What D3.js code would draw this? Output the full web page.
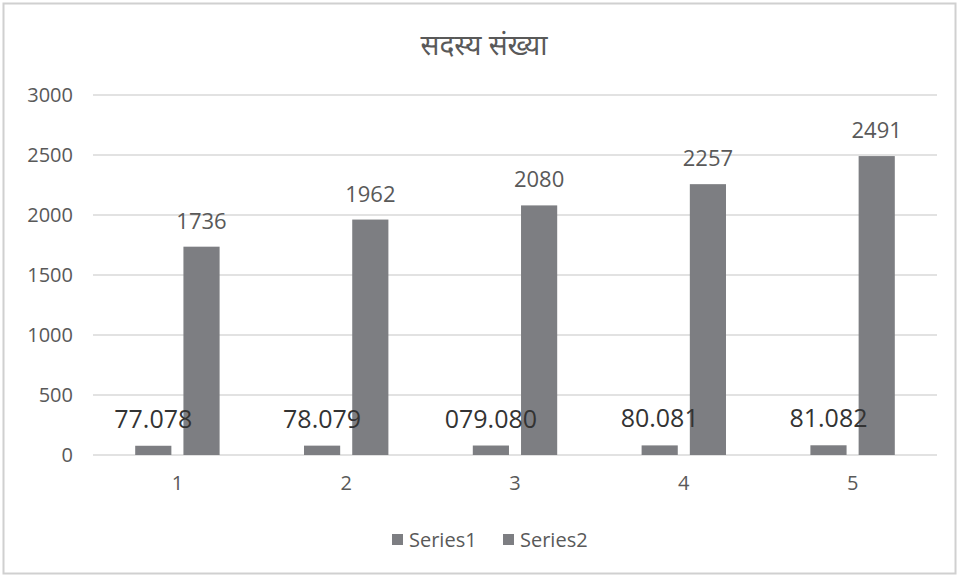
<!DOCTYPE html>
<html>
<head>
<meta charset="utf-8">
<script src="https://cdn.jsdelivr.net/npm/d3@7"></script>
<style>
body { margin: 0; background: #fff; }
svg { display: block; }
</style>
</head>
<body>
<div id="chart"></div>
<script>
var categories = ['1', '2', '3', '4', '5'];
var series1 = [77, 78, 79, 80, 81];
var series1_labels = ['77.078', '78.079', '079.080', '80.081', '81.082'];
var series2 = [1736, 1962, 2080, 2257, 2491];
var y_ticks = [0, 500, 1000, 1500, 2000, 2500, 3000];
var series_names = ['Series1', 'Series2'];

function draw_chart() {
	var W = 960, H = 576;
	var m_left = 93, m_right = 937, m_top = 95, m_bottom = 455;
	var bar_color = '#7d7e82';

	var svg = d3.select('#chart').append('svg')
		.attr('width', W).attr('height', H);

	// chart frame
	svg.append('rect')
		.attr('x', 3.5).attr('y', 3.5)
		.attr('width', 952).attr('height', 570)
		.attr('fill', '#fff').attr('stroke', '#d0d0d0').attr('stroke-width', 2);

	svg.append('text')
		.attr('x', 484).attr('y', 55)
		.attr('text-anchor', 'middle')
		.style('font-family', '"Noto Sans", "Noto Sans Devanagari", sans-serif')
		.style('font-size', '28px')
		.attr('fill', '#595959')
		.text('सदस्य संख्या');

	var y = d3.scaleLinear().domain([0, 3000]).range([m_bottom, m_top]);
	var x0 = d3.scaleBand().domain(categories).range([m_left, m_right])
		.paddingInner(0.5).paddingOuter(0.25);
	var x1 = d3.scaleBand().domain(series_names).range([0, x0.bandwidth()])
		.paddingInner(0.25);

	// gridlines
	svg.append('g').selectAll('line').data(y_ticks).enter().append('line')
		.attr('x1', m_left).attr('x2', m_right)
		.attr('y1', function(d) { return y(d); })
		.attr('y2', function(d) { return y(d); })
		.attr('stroke', '#d9d9d9').attr('stroke-width', 1.5);

	var yAxis = svg.append('g')
		.attr('transform', 'translate(' + m_left + ',0)')
		.call(d3.axisLeft(y).tickValues(y_ticks).tickSize(0).tickPadding(20)
			.tickFormat(d3.format('d')));
	yAxis.select('.domain').remove();
	yAxis.selectAll('text')
		.style('font-family', '"Open Sans", sans-serif')
		.style('font-size', '20px')
		.attr('fill', '#595959');

	var xAxis = svg.append('g')
		.attr('transform', 'translate(0,' + m_bottom + ')')
		.call(d3.axisBottom(x0).tickSize(0).tickPadding(21));
	xAxis.select('.domain').remove();
	xAxis.selectAll('text')
		.style('font-family', '"Open Sans", sans-serif')
		.style('font-size', '20px')
		.attr('fill', '#595959');

	var rows = categories.map(function(c, i) {
		return { cat: c, vals: [
			{ s: 'Series1', v: series1[i], label: series1_labels[i] },
			{ s: 'Series2', v: series2[i], label: String(series2[i]) }
		] };
	});

	var groups = svg.append('g').selectAll('g').data(rows).enter().append('g')
		.attr('transform', function(d) { return 'translate(' + x0(d.cat) + ',0)'; });

	groups.selectAll('rect').data(function(d) { return d.vals; }).enter().append('rect')
		.attr('x', function(d) { return x1(d.s); })
		.attr('width', x1.bandwidth())
		.attr('y', function(d) { return y(d.v); })
		.attr('height', function(d) { return m_bottom - y(d.v); })
		.attr('fill', bar_color);

	groups.selectAll('text.lbl').data(function(d) { return d.vals; }).enter().append('text')
		.attr('class', 'lbl')
		.attr('x', function(d) { return x1(d.s) + x1.bandwidth() / 2; })
		.attr('y', function(d) { return y(d.v) - 18; })
		.attr('text-anchor', 'middle')
		.style('font-family', '"Open Sans", sans-serif')
		.style('font-size', function(d) { return d.s == 'Series1' ? '25px' : '22px'; })
		.attr('fill', function(d) { return d.s == 'Series1' ? '#333333' : '#595959'; })
		.text(function(d) { return d.label; });

	// legend
	var legend = svg.append('g');
	var leg_x = [392, 503];
	series_names.forEach(function(n, i) {
		legend.append('rect')
			.attr('x', leg_x[i]).attr('y', 534)
			.attr('width', 11).attr('height', 11)
			.attr('fill', bar_color);
		legend.append('text')
			.attr('x', leg_x[i] + 17).attr('y', 547)
			.style('font-family', '"Open Sans", sans-serif')
			.style('font-size', '20px')
			.attr('fill', '#595959')
			.text(n);
	});
}

draw_chart();
</script>
</body>
</html>
